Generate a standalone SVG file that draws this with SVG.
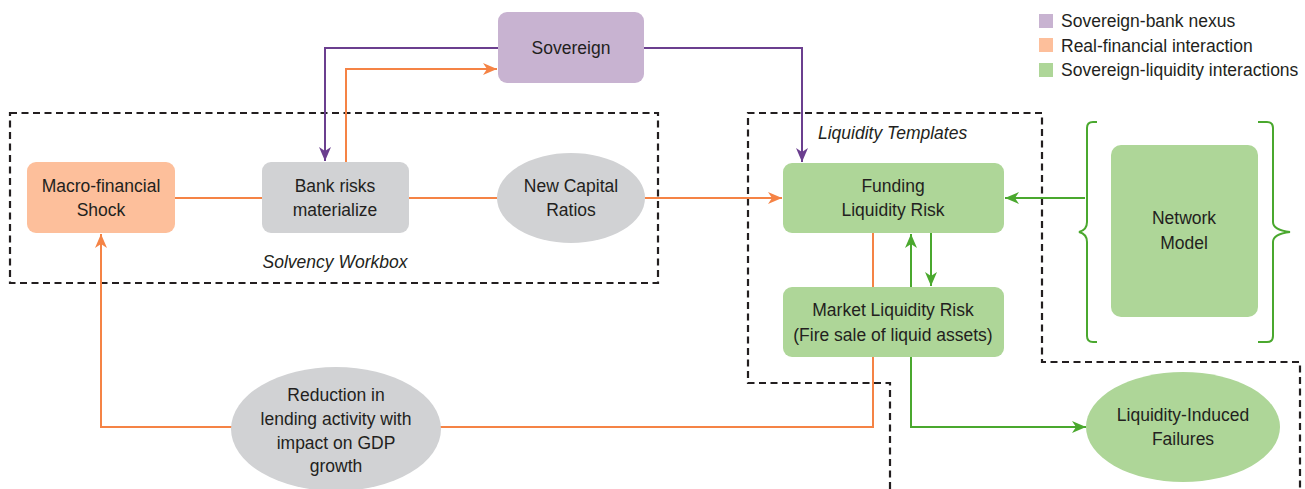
<svg xmlns="http://www.w3.org/2000/svg" width="1305" height="489" viewBox="0 0 1305 489">
<style>
text{font-family:"Liberation Sans",Arial,sans-serif;font-size:17.5px;fill:#231f20;text-anchor:middle}
.it{font-style:italic}
.lg{text-anchor:start}
.dash{fill:none;stroke:#231f20;stroke-width:2.2;stroke-dasharray:7,4.5}
.or{fill:none;stroke:#f58345;stroke-width:2}
.pu{fill:none;stroke:#6b3f8f;stroke-width:2}
.gr{fill:none;stroke:#4aa82e;stroke-width:2}
.fpeach{fill:#fdbf9b}
.fgray{fill:#d1d2d4}
.fpurp{fill:#c8b3d1}
.fgreen{fill:#aed698}
</style>
<defs>
<marker id="ao" viewBox="0 0 14 12" refX="14" refY="6" markerWidth="14" markerHeight="12" markerUnits="userSpaceOnUse" orient="auto"><path d="M0,0 L14,6 L0,12 L4,6 Z" fill="#f58345"/></marker>
<marker id="ap" viewBox="0 0 14 12" refX="14" refY="6" markerWidth="14" markerHeight="12" markerUnits="userSpaceOnUse" orient="auto"><path d="M0,0 L14,6 L0,12 L4,6 Z" fill="#6b3f8f"/></marker>
<marker id="ag" viewBox="0 0 14 12" refX="14" refY="6" markerWidth="14" markerHeight="12" markerUnits="userSpaceOnUse" orient="auto"><path d="M0,0 L14,6 L0,12 L4,6 Z" fill="#4aa82e"/></marker>
</defs>

<g id="legend">
<rect x="1039" y="14" width="14" height="14" class="fpurp"/>
<text class="lg" x="1061" y="27">Sovereign-bank nexus</text>
<rect x="1039" y="38" width="14" height="14" class="fpeach"/>
<text class="lg" x="1061" y="52">Real-financial interaction</text>
<rect x="1039" y="63" width="14" height="14" class="fgreen"/>
<text class="lg" x="1061" y="76">Sovereign-liquidity interactions</text>
</g>

<g id="regions">
<rect class="dash" x="10" y="113" width="648" height="170"/>
<text class="it" x="335" y="268">Solvency Workbox</text>
<path class="dash" d="M890,489 L890,383 L748,383 L748,113 L1042,113 L1042,362 L1300,362 L1300,489"/>
<text class="it lg" x="818" y="139">Liquidity Templates</text>
</g>

<g id="connectors">
<path class="pu" d="M498,48 L325,48 L325,161" marker-end="url(#ap)"/>
<path class="pu" d="M644,48 L802,48 L802,162" marker-end="url(#ap)"/>
<path class="or" d="M346,162 L346,69 L497,69" marker-end="url(#ao)"/>
<path class="or" d="M175,198 L262,198"/>
<path class="or" d="M409,198 L497,198"/>
<path class="or" d="M645,198 L782,198" marker-end="url(#ao)"/>
<path class="or" d="M873,233 L873,427 L101,427 L101,234" marker-end="url(#ao)"/>
<path class="gr" d="M911,287 L911,234" marker-end="url(#ag)"/>
<path class="gr" d="M931,233 L931,286" marker-end="url(#ag)"/>
<path class="gr" d="M911,357 L911,427 L1086,427" marker-end="url(#ag)"/>
<path class="gr" d="M1085,198 L1005,198" marker-end="url(#ag)"/>
</g>

<g id="sovereign">
<rect x="498" y="12" width="146" height="71" rx="9" class="fpurp"/>
<text x="571" y="54">Sovereign</text>
</g>

<g id="macro-shock">
<rect x="27" y="162" width="148" height="71" rx="9" class="fpeach"/>
<text x="101" y="192">Macro-financial</text>
<text x="101" y="216">Shock</text>
</g>

<g id="bank-risks">
<rect x="262" y="162" width="147" height="71" rx="9" class="fgray"/>
<text x="335" y="192">Bank risks</text>
<text x="335" y="216">materialize</text>
</g>

<g id="new-capital-ratios">
<ellipse cx="571" cy="198" rx="74" ry="45" class="fgray"/>
<text x="571" y="192">New Capital</text>
<text x="571" y="216">Ratios</text>
</g>

<g id="funding-liquidity-risk">
<rect x="783" y="163" width="221" height="70" rx="9" class="fgreen"/>
<text x="893" y="192">Funding</text>
<text x="893" y="216">Liquidity Risk</text>
</g>

<g id="market-liquidity-risk">
<rect x="783" y="287" width="221" height="70" rx="9" class="fgreen"/>
<text x="893" y="316">Market Liquidity Risk</text>
<text x="893" y="341">(Fire sale of liquid assets)</text>
</g>

<g id="network-model">
<rect x="1111" y="145" width="147" height="172" rx="10" class="fgreen"/>
<text x="1184" y="224">Network</text>
<text x="1184" y="249">Model</text>
<path class="gr" d="M1097,122 L1093,122 Q1087,122 1087,128 L1087,222 Q1087,230 1079,232 Q1087,234 1087,242 L1087,336 Q1087,342 1093,342 L1097,342"/>
<path class="gr" d="M1258,122 L1267,122 Q1273,122 1273,128 L1273,222 Q1273,230 1290,232 Q1273,234 1273,242 L1273,336 Q1273,342 1267,342 L1258,342"/>
</g>

<g id="reduction-lending">
<ellipse cx="336" cy="429" rx="105" ry="62" class="fgray"/>
<text x="336" y="401">Reduction in</text>
<text x="336" y="425">lending activity with</text>
<text x="336" y="449">impact on GDP</text>
<text x="336" y="472">growth</text>
</g>

<g id="liquidity-induced-failures">
<ellipse cx="1183" cy="427" rx="97" ry="55" class="fgreen"/>
<text x="1183" y="421">Liquidity-Induced</text>
<text x="1183" y="445">Failures</text>
</g>
</svg>
